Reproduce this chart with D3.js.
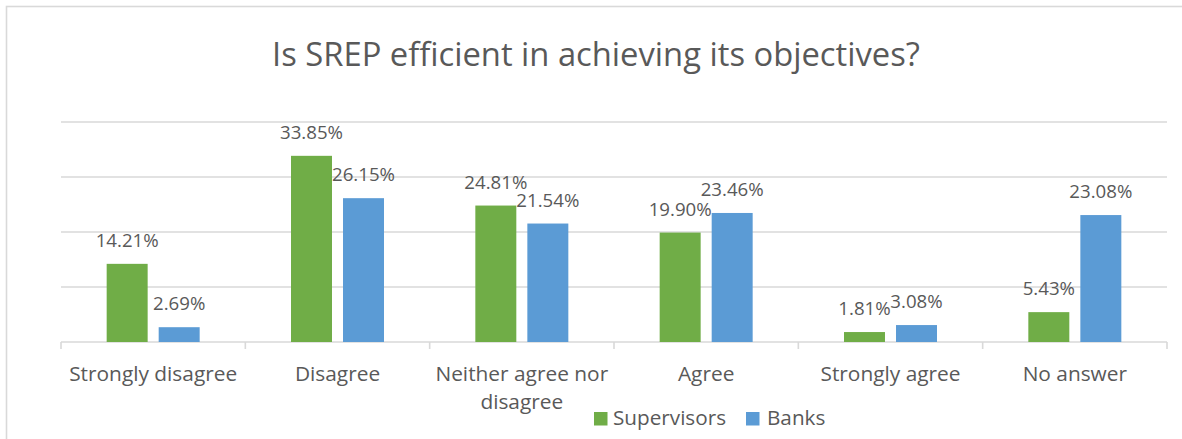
<!DOCTYPE html>
<html>
<head>
<meta charset="utf-8">
<script src="https://cdn.jsdelivr.net/npm/d3@7"></script>
<style>
  html, body { margin: 0; padding: 0; background: #fff; }
  svg { display: block; font-family: "Open Sans", "Noto Sans", sans-serif; }
</style>
</head>
<body>
<svg id="chart" width="1182" height="439"></svg>
<script>
// Survey answers: "Is SREP efficient in achieving its objectives?"
const categories = ["Strongly disagree", "Disagree", "Neither agree nor disagree", "Agree", "Strongly agree", "No answer"];
const seriesNames = ["Supervisors", "Banks"];
const supervisors = [0.1421, 0.3385, 0.2481, 0.1990, 0.0181, 0.0543];
const banks = [0.0269, 0.2615, 0.2154, 0.2346, 0.0308, 0.2308];
const yTicks = [0, 0.1, 0.2, 0.3, 0.4];
const titleText = "Is SREP efficient in achieving its objectives?";

const colors = { Supervisors: "#70AD47", Banks: "#5B9BD5" };
const textColor = "#595959";
const gridColor = "#D9D9D9";

const svg = d3.select("#chart");
const plot = { left: 61, right: 1167, top: 122, bottom: 342 };

const rows = categories.map((c, i) => ({
  category: c,
  values: [
    { series: "Supervisors", value: supervisors[i] },
    { series: "Banks", value: banks[i] }
  ]
}));

// Shrink or grow a text element's font size until it reaches the wanted width
function sizeToWidth(node, width) {
  let size = parseFloat(node.getAttribute("font-size"));
  for (let k = 0; k < 4; k++) {
    const w = node.getComputedTextLength();
    size = size * width / w;
    node.setAttribute("font-size", size);
  }
  return size;
}

// Chart frame
svg.append("rect")
  .attr("x", 6.5).attr("y", 6.5)
  .attr("width", 1200).attr("height", 460)
  .attr("fill", "none")
  .attr("stroke", gridColor)
  .attr("stroke-width", 1.6);

// Title
const title = svg.append("text")
  .attr("x", (272 + 920) / 2).attr("y", 66)
  .attr("text-anchor", "middle")
  .attr("fill", textColor)
  .attr("font-size", 26)
  .text(titleText);
sizeToWidth(title.node(), 648);

// Scales
const x0 = d3.scaleBand().domain(categories).range([plot.left, plot.right]).paddingInner(0).paddingOuter(0);
const x1 = d3.scaleBand().domain(seriesNames).range([0, x0.bandwidth()]).paddingInner(0.212).paddingOuter(0.878);
const y = d3.scaleLinear().domain([0, 0.4]).range([plot.bottom, plot.top]);

// Gridlines
svg.append("g")
  .selectAll("line")
  .data(yTicks.filter(t => t > 0))
  .join("line")
  .attr("x1", plot.left).attr("x2", plot.right)
  .attr("y1", d => y(d)).attr("y2", d => y(d))
  .attr("stroke", gridColor)
  .attr("stroke-width", 1.6);

// Category axis
const axisG = svg.append("g")
  .attr("transform", `translate(0,${plot.bottom})`);
axisG.append("line")
  .attr("x1", plot.left).attr("x2", plot.right)
  .attr("stroke", gridColor).attr("stroke-width", 1.6);
const boundaries = categories.map(c => x0(c)).concat([x0(categories[categories.length - 1]) + x0.bandwidth()]);
axisG.selectAll("line.tick")
  .data(boundaries)
  .join("line")
  .attr("class", "tick")
  .attr("x1", d => d).attr("x2", d => d)
  .attr("y1", 0).attr("y2", 7)
  .attr("stroke", gridColor).attr("stroke-width", 1.6);

// Bars
const groups = svg.append("g")
  .selectAll("g")
  .data(rows)
  .join("g")
  .attr("transform", d => `translate(${x0(d.category)},0)`);

groups.selectAll("rect")
  .data(d => d.values)
  .join("rect")
  .attr("x", d => x1(d.series))
  .attr("width", x1.bandwidth())
  .attr("y", d => y(d.value))
  .attr("height", d => y(0) - y(d.value))
  .attr("fill", d => colors[d.series]);

// Value labels
const fmt = d3.format(".2%");
const labels = groups.selectAll("text")
  .data(d => d.values)
  .join("text")
  .attr("x", d => x1(d.series) + x1.bandwidth() / 2)
  .attr("y", d => y(d.value) - 17)
  .attr("text-anchor", "middle")
  .attr("fill", textColor)
  .attr("font-size", 18)
  .text(d => fmt(d.value));
const labelSize = sizeToWidth(labels.filter((d, i, n) => n[i].textContent === "33.85%").node() || labels.node(), 63);
labels.attr("font-size", labelSize);

// Category labels, wrapped to the band width
const tickFont = (() => {
  const probe = svg.append("text").attr("font-size", 18).text(categories[0]);
  const s = sizeToWidth(probe.node(), 168);
  probe.remove();
  return s;
})();

svg.append("g")
  .selectAll("text")
  .data(categories)
  .join("text")
  .attr("text-anchor", "middle")
  .attr("fill", textColor)
  .attr("font-size", tickFont)
  .each(function (c) {
    const t = d3.select(this);
    const cx = x0(c) + x0.bandwidth() / 2;
    const words = c.split(" ");
    const lines = [];
    let line = [];
    const probe = t.append("tspan");
    words.forEach(w => {
      const test = line.concat([w]).join(" ");
      probe.text(test);
      if (probe.node().getComputedTextLength() > x0.bandwidth() - 6 && line.length) {
        lines.push(line.join(" "));
        line = [w];
      } else {
        line.push(w);
      }
    });
    lines.push(line.join(" "));
    probe.remove();
    lines.forEach((l, i) => {
      t.append("tspan").attr("x", cx).attr("y", 381 + i * 28).text(l);
    });
  });

// Legend
const legend = svg.append("g");
const legendItems = [
  { name: "Supervisors", sx: 594, tx: 613 },
  { name: "Banks", sx: 746, tx: 767 }
];
legend.selectAll("rect")
  .data(legendItems)
  .join("rect")
  .attr("x", d => d.sx).attr("y", 412)
  .attr("width", 13.5).attr("height", 13.5)
  .attr("fill", d => colors[d.name]);
const legendText = legend.selectAll("text")
  .data(legendItems)
  .join("text")
  .attr("x", d => d.tx).attr("y", 425)
  .attr("fill", textColor)
  .attr("font-size", 18)
  .text(d => d.name);
const legendSize = sizeToWidth(legendText.node(), 113);
legendText.attr("font-size", legendSize);
</script>
</body>
</html>
